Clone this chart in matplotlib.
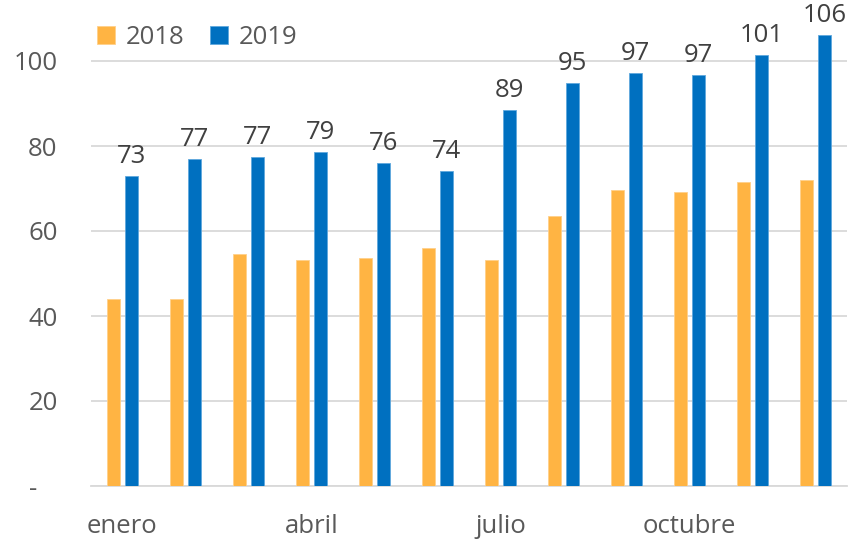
import matplotlib
matplotlib.use("Agg")
import matplotlib.pyplot as plt
import numpy as np

plt.rcParams['font.family'] = ['Open Sans', 'DejaVu Sans']

meses = ['enero', 'febrero', 'marzo', 'abril', 'mayo', 'junio', 'julio',
         'agosto', 'septiembre', 'octubre', 'noviembre', 'diciembre']
v2018 = [44.0, 44.0, 54.6, 53.2, 53.6, 56.0, 53.2, 63.5, 69.6, 69.2, 71.5, 72.0]
v2019 = [72.9, 76.9, 77.4, 78.6, 76.0, 74.1, 88.5, 94.8, 97.2, 96.7, 101.4, 106.1]
etiquetas = [73, 77, 77, 79, 76, 74, 89, 95, 97, 97, 101, 106]

x = np.arange(len(meses))
w = 0.22
off = 0.143

fig = plt.figure(figsize=(8.5, 5.42), dpi=100)
ax = fig.add_axes([91/850, 1 - 486/542, 756/850, 467.5/542])

ax.bar(x - off, v2018, width=w, color='#FFB443', edgecolor='#FFD08A', linewidth=0.6, label='2018', zorder=3)
ax.bar(x + off, v2019, width=w, color='#0070C0', edgecolor='#5FA8DD', linewidth=0.6, label='2019', zorder=3)

for xi, v, t in zip(x, v2019, etiquetas):
    ax.text(xi + off, v + 1.7, str(t), ha='center', va='bottom', fontsize=18.5, color='#404040')

ax.set_xlim(-0.5, 11.5)
ax.set_ylim(0, 110)
ax.set_yticks([0, 20, 40, 60, 80, 100])
# el cero sale como "-" con un poco de espacio a la derecha
ax.set_yticklabels(['-\u00a0\u00a0\u00a0', '20', '40', '60', '80', '100'])
ax.set_xticks([0, 3, 6, 9])
ax.set_xticklabels(['enero', 'abril', 'julio', 'octubre'])
ax.tick_params(axis='both', length=0, labelsize=18.5, colors='#595959')
ax.tick_params(axis='x', pad=20)
ax.tick_params(axis='y', pad=24)
ax.grid(axis='y', color='#D9D9D9', linewidth=1.3, zorder=0)
for s in ['top', 'right', 'left']:
    ax.spines[s].set_visible(False)
ax.spines['bottom'].set_color('#D9D9D9')
ax.spines['bottom'].set_linewidth(1.3)

leg = ax.legend(loc='upper left', bbox_to_anchor=(-0.012, 1.02), ncol=2, frameon=False,
                fontsize=18.5, handlelength=0.7, handleheight=0.7, columnspacing=1.0,
                handletextpad=0.4, labelcolor='#595959', borderaxespad=0.2)

fig.savefig('out.png', dpi=100)
